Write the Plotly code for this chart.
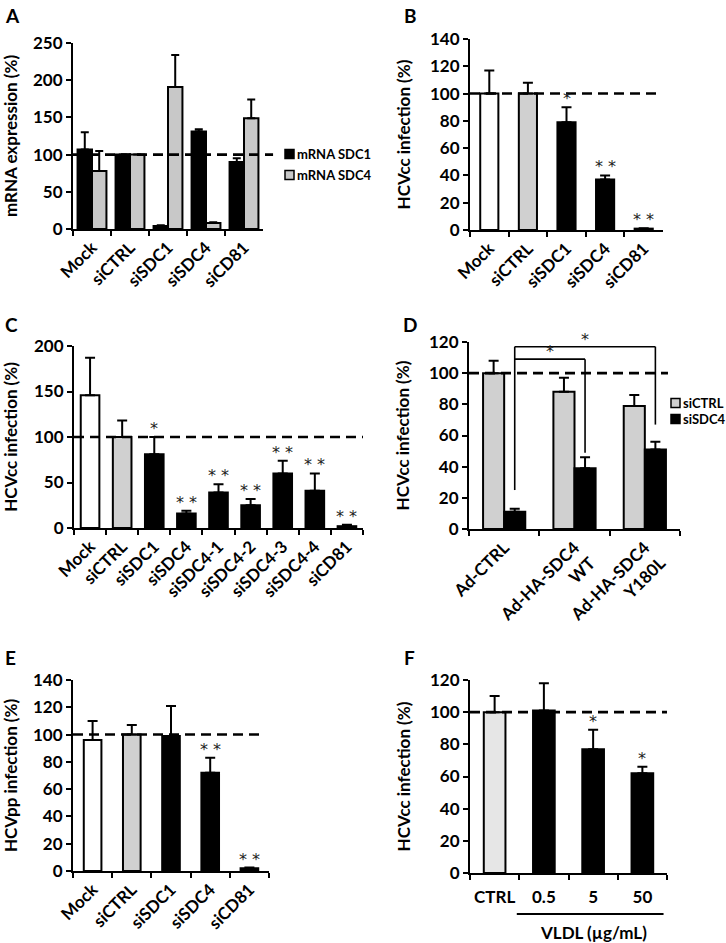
import plotly.graph_objects as go

W, H = 726, 943

# ---------------- data ----------------
REF_LINE = 100

A_CATS = ["Mock", "siCTRL", "siSDC1", "siSDC4", "siCD81"]
A_SERIES = ["mRNA SDC1", "mRNA SDC4"]
A_SDC1 = [107, 100, 4, 131, 90]
A_SDC1_ERR = [23, 0, 1, 3, 5]
A_SDC4 = [78, 100, 191, 8, 149]
A_SDC4_ERR = [27, 0, 43, 1, 25]

B_CATS = ["Mock", "siCTRL", "siSDC1", "siSDC4", "siCD81"]
B_VALS = [100, 100, 79, 37, 1]
B_ERR = [17, 8, 11, 3, 0.3]
B_SIG = ["", "", "*", "**", "**"]

C_CATS = ["Mock", "siCTRL", "siSDC1", "siSDC4", "siSDC4-1", "siSDC4-2",
          "siSDC4-3", "siSDC4-4", "siCD81"]
C_VALS = [146, 100, 81, 16, 39, 25, 60, 41, 2]
C_ERR = [41, 18, 19, 3, 9, 7, 14, 19, 1.5]
C_SIG = ["", "", "*", "**", "**", "**", "**", "**", "**"]

D_CATS = ["Ad-CTRL", "Ad-HA-SDC4<br>WT", "Ad-HA-SDC4<br>Y180L"]
D_SERIES = ["siCTRL", "siSDC4"]
D_SICTRL = [100, 88, 79]
D_SICTRL_ERR = [8, 9, 7]
D_SISDC4 = [11, 39, 51]
D_SISDC4_ERR = [2, 7, 5]
D_BRACKET_FROM = 0
D_BRACKET_BASE = 25
# (target category index, bracket height, drop end, label)
D_BRACKETS = [(1, 109, 49, "*"), (2, 117, 67, "*")]

E_CATS = ["Mock", "siCTRL", "siSDC1", "siSDC4", "siCD81"]
E_VALS = [96, 100, 99, 72, 2]
E_ERR = [14, 7, 22, 11, 0.5]
E_SIG = ["", "", "", "**", "**"]

F_CATS = ["CTRL", "0.5", "5", "50"]
F_VALS = [100, 101, 77, 62]
F_ERR = [10, 17, 12, 4]
F_SIG = ["", "", "*", "*"]
F_GROUP_LABEL = "VLDL (µg/mL)"

# ---------------- styles ----------------
FAM = "Lato"
GRAY = "#d0d0d0"
LIGHT = "#e6e6e6"
TICKFONT = dict(family=FAM, size=17, color="black", weight="bold")
SIGFONT = dict(family="DejaVu Sans", size=16, color="#222222")

fig = go.Figure()
shapes, annotations = [], []


def dom_x(a, b):
    return [a / W, b / W]


def dom_y(top, bot):
    return [1 - bot / H, 1 - top / H]


def set_axes(n, xpx, ypx, ncat, ymax, dtick, title, tickangle=-45, xstandoff=0):
    sfx = "" if n == 1 else str(n)
    fig.layout["xaxis" + sfx] = dict(
        domain=dom_x(*xpx), anchor="y" + sfx, type="category", automargin=False,
        range=[-0.5, ncat - 0.5], showline=True, linecolor="black", linewidth=2,
        ticks="outside", ticklen=5, tickwidth=2, tickcolor="black",
        tickson="boundaries", tickangle=tickangle, tickfont=TICKFONT,
        ticklabelstandoff=xstandoff,
        showgrid=False, zeroline=False, fixedrange=True)
    fig.layout["yaxis" + sfx] = dict(
        domain=dom_y(*ypx), anchor="x" + sfx, range=[0, ymax], dtick=dtick,
        automargin=False,
        showline=True, linecolor="black", linewidth=2, ticks="outside",
        ticklen=5, tickwidth=2, tickcolor="black", tickfont=TICKFONT,
        title=dict(text=title, font=TICKFONT),
        showgrid=False, zeroline=False, fixedrange=True)


def ref_line(n, x1frac):
    sfx = "" if n == 1 else str(n)
    shapes.append(dict(type="line", xref=f"x{sfx} domain", yref=f"y{sfx}",
                       x0=0, x1=x1frac, y0=REF_LINE, y1=REF_LINE,
                       line=dict(color="black", width=2.6, dash="10px,6px")))


def sig_marks(n, vals, errs, sigs):
    sfx = "" if n == 1 else str(n)
    for i, (v, e, s) in enumerate(zip(vals, errs, sigs)):
        if s:
            annotations.append(dict(xref=f"x{sfx}", yref=f"y{sfx}", x=i, y=v + e,
                                    text=" ".join(s), showarrow=False,
                                    yanchor="bottom", yshift=-3, font=SIGFONT))


def err(arr, w=5):
    return dict(type="data", array=arr, arrayminus=[0] * len(arr), symmetric=False,
                color="black", thickness=2, width=w)


def bar(n, cats, vals, errs, colors, width, name, offset=None, ew=5):
    sfx = "" if n == 1 else str(n)
    kw = dict(offset=offset) if offset is not None else {}
    fig.add_trace(go.Bar(x=cats, y=vals, error_y=err(errs, ew), name=name,
                         marker=dict(color=colors, line=dict(color="black", width=2)),
                         width=width, xaxis="x" + sfx, yaxis="y" + sfx,
                         showlegend=False, **kw))


def legend_item(xpx, ypx, color, label):
    s = 9
    shapes.append(dict(type="rect", xref="paper", yref="paper",
                       x0=xpx / W, x1=(xpx + s) / W,
                       y0=1 - (ypx + s / 2) / H, y1=1 - (ypx - s / 2) / H,
                       fillcolor=color, line=dict(color="black", width=1.5)))
    annotations.append(dict(xref="paper", yref="paper", x=(xpx + s + 1) / W,
                            y=1 - ypx / H, text=label, showarrow=False,
                            xanchor="left", yanchor="middle",
                            font=dict(family=FAM, size=13, color="black", weight="bold")))


# ---------------- Panel A ----------------
set_axes(1, (73, 263), (43, 229), len(A_CATS), 250, 50, "mRNA expression (%)")
bar(1, A_CATS, A_SDC1, A_SDC1_ERR, "black", 0.38, A_SERIES[0], offset=-0.38, ew=4)
bar(1, A_CATS, A_SDC4, A_SDC4_ERR, "#c8c8c8", 0.38, A_SERIES[1], offset=0.0, ew=4)
ref_line(1, 1.053)
legend_item(285, 154, "black", A_SERIES[0])
legend_item(285, 175, "#c8c8c8", A_SERIES[1])

# ---------------- Panel B ----------------
set_axes(2, (470, 663), (39, 230), len(B_CATS), 140, 20, "HCVcc infection (%)")
bar(2, B_CATS, B_VALS, B_ERR, ["white", GRAY, "black", "black", "black"], 0.47, "B")
ref_line(2, 0.974)
sig_marks(2, B_VALS, B_ERR, B_SIG)

# ---------------- Panel C ----------------
set_axes(3, (74, 363), (346, 528), len(C_CATS), 200, 50, "HCVcc infection (%)")
bar(3, C_CATS, C_VALS, C_ERR, ["white", GRAY] + ["black"] * 7, 0.58, "C")
ref_line(3, 1.0)
sig_marks(3, C_VALS, C_ERR, C_SIG)

# ---------------- Panel D ----------------
set_axes(4, (469, 680), (342, 529), len(D_CATS), 120, 20, "HCVcc infection (%)")
bar(4, D_CATS, D_SICTRL, D_SICTRL_ERR, GRAY, 0.3, D_SERIES[0], offset=-0.3)
bar(4, D_CATS, D_SISDC4, D_SISDC4_ERR, "black", 0.3, D_SERIES[1], offset=0.0)
ref_line(4, 0.943)
legend_item(671, 403, GRAY, D_SERIES[0])
legend_item(671, 419, "black", D_SERIES[1])
half = 0.15  # centre of the siSDC4 bar within its group
x_from = D_BRACKET_FROM + half
top_h = max(b[1] for b in D_BRACKETS)
shapes.append(dict(type="line", xref="x4", yref="y4", x0=x_from, x1=x_from,
                   y0=D_BRACKET_BASE, y1=top_h, line=dict(color="black", width=1.6)))
for tgt, hgt, drop, lab in D_BRACKETS:
    x_to = tgt + half
    shapes.append(dict(type="line", xref="x4", yref="y4", x0=x_from, x1=x_to,
                       y0=hgt, y1=hgt, line=dict(color="black", width=1.6)))
    shapes.append(dict(type="line", xref="x4", yref="y4", x0=x_to, x1=x_to,
                       y0=hgt, y1=drop, line=dict(color="black", width=1.6)))
    annotations.append(dict(xref="x4", yref="y4", x=(x_from + x_to) / 2, y=hgt,
                            text=lab, showarrow=False, yanchor="bottom", yshift=-4,
                            font=SIGFONT))

# ---------------- Panel E ----------------
set_axes(5, (73, 269), (680, 871), len(E_CATS), 140, 20, "HCVpp infection (%)")
bar(5, E_CATS, E_VALS, E_ERR, ["white", GRAY, "black", "black", "black"], 0.45, "E")
ref_line(5, 0.97)
sig_marks(5, E_VALS, E_ERR, E_SIG)

# ---------------- Panel F ----------------
set_axes(6, (470, 667), (680, 873), len(F_CATS), 120, 20, "HCVcc infection (%)",
         tickangle=0, xstandoff=8)
bar(6, F_CATS, F_VALS, F_ERR, [LIGHT, "black", "black", "black"], 0.44, "F")
ref_line(6, 1.0)
sig_marks(6, F_VALS, F_ERR, F_SIG)
shapes.append(dict(type="line", xref="x6", yref="paper", x0=0.45, x1=3.43,
                   y0=1 - 914 / H, y1=1 - 914 / H, line=dict(color="black", width=2)))
annotations.append(dict(xref="x6", yref="paper", x=2, y=1 - 932 / H,
                        text=F_GROUP_LABEL, showarrow=False, yanchor="middle",
                        font=TICKFONT))

# ---------------- panel letters ----------------
for letter, xp, yp in [("A", 3, 2), ("B", 402, 2), ("C", 3, 311), ("D", 401, 311),
                       ("E", 3, 644), ("F", 402, 644)]:
    annotations.append(dict(xref="paper", yref="paper", x=xp / W, y=1 - yp / H,
                            text=letter, showarrow=False, xanchor="left", yanchor="top",
                            font=dict(family=FAM, size=19, color="black", weight="bold")))

fig.update_layout(width=W, height=H, margin=dict(l=0, r=0, t=0, b=0, autoexpand=False),
                  autosize=False, paper_bgcolor="white", plot_bgcolor="white",
                  barmode="group", showlegend=False, shapes=shapes,
                  annotations=annotations, font=dict(family=FAM))

fig.write_html("out.html", config={"displayModeBar": False})

# remove default page margins so no scrollbar crops the figure
with open("out.html", encoding="utf-8") as fh:
    html = fh.read()
html = html.replace("<head>", "<head><style>html,body{margin:0;padding:0;overflow:hidden;}</style>", 1)
with open("out.html", "w", encoding="utf-8") as fh:
    fh.write(html)
